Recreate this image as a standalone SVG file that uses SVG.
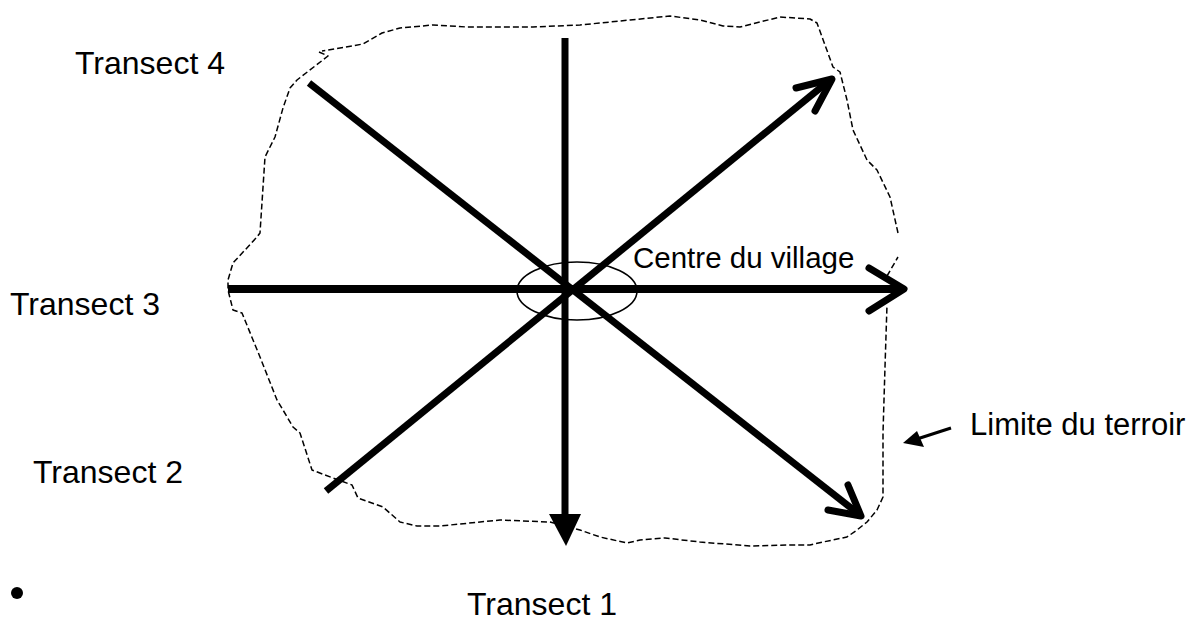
<svg xmlns="http://www.w3.org/2000/svg" width="1196" height="628" viewBox="0 0 1196 628">
<style>
  text { font-family: "Liberation Sans", Arial, sans-serif; font-size: 32px; fill: #000; }
  .thick { stroke: #000; stroke-width: 7; fill: none; stroke-linecap: butt; }
  .head { stroke: #000; stroke-width: 7; fill: none; stroke-linecap: round; stroke-linejoin: round; }
  .border { stroke: #000; stroke-width: 1.5; fill: none; stroke-dasharray: 6 3; stroke-linejoin: round; }
</style>
<rect width="1196" height="628" fill="#fff"/>
<g id="terroir-boundary">
  <path class="border" d="M 319,52 L 328,56 L 297,80 L 290,88 L 283,108 L 275,137 L 265,157 L 260,233 L 257,237 L 233,263 L 228,280 L 228,290 L 233,310 L 242,313 L 260,357 L 277,400 L 283,410 L 293,427 L 300,433 L 312,470 L 333,478 L 352,485 L 358,498 L 383,507 L 400,522 L 417,526 L 440,526 L 500,520 L 550,522 L 580,530 L 600,537 L 627,543 L 640,540 L 665,538 L 700,542 L 750,546 L 790,545 L 810,545 L 823,542 L 847,537 L 857,530 L 867,522 L 877,510 L 883,497 L 883,433 L 885,367 L 887,305"/>
  <path class="border" d="M 887,276 L 898,257"/>
  <path class="border" d="M 898,233 L 890,197 L 877,170 L 867,160 L 853,130 L 847,100 L 840,72 L 833,67 L 825,45 L 817,23 L 810,19 L 780,17 L 760,22 L 740,27 L 723,26 L 700,20 L 670,16 L 630,20 L 580,25 L 533,27 L 467,27 L 433,25 L 400,28 L 382,33 L 363,44 L 322,51"/>
</g>
<g id="centre-village">
  <ellipse cx="577" cy="291" rx="60" ry="29" fill="none" stroke="#000" stroke-width="1.6"/>
  <text x="633" y="268" style="font-size:29.5px">Centre du village</text>
</g>
<g id="connectors">
  <g id="transect1-line">
    <line class="thick" x1="565" y1="38" x2="565" y2="520"/>
    <polygon points="549,514 581,514 566,546" fill="#000"/>
  </g>
  <g id="transect3-line">
    <line class="thick" x1="228" y1="289" x2="902" y2="289" style="stroke-width:8"/>
    <polyline class="head" points="869,268 904,289 869,311"/>
  </g>
  <g id="transect4-line">
    <line class="thick" x1="309" y1="83" x2="860" y2="515"/>
    <polyline class="head" points="848,485 861,516 828,510"/>
  </g>
  <g id="transect2-line">
    <line class="thick" x1="326" y1="491" x2="830" y2="80"/>
    <polyline class="head" points="796,88 832,79 815,111"/>
  </g>
  <g id="limite-arrow">
    <line x1="951" y1="428" x2="917" y2="439" stroke="#000" stroke-width="3"/>
    <polygon points="903,443 917,431 924,447" fill="#000"/>
  </g>
</g>
<g id="transect4"><text x="75" y="74">Transect 4</text></g>
<g id="transect3"><text x="10" y="315">Transect 3</text></g>
<g id="transect2"><text x="33" y="483">Transect 2</text></g>
<g id="transect1"><text x="467" y="615">Transect 1</text></g>
<g id="limite"><text x="970" y="435" style="font-size:31px">Limite du terroir</text></g>
<g id="bullet"><circle cx="17" cy="593" r="6" fill="#000"/></g>
</svg>
